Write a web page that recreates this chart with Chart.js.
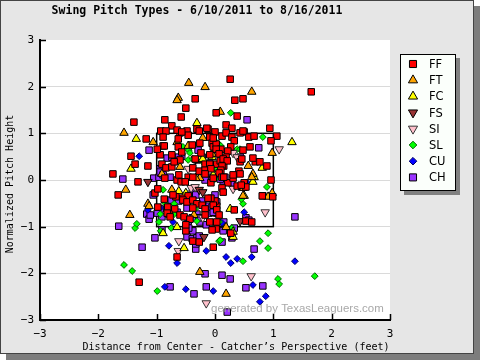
<!DOCTYPE html>
<html><head><meta charset="utf-8">
<script src="https://cdn.jsdelivr.net/npm/chart.js@4"></script>
<style>html,body{margin:0;padding:0;background:#fff;overflow:hidden}canvas{display:block}</style>
</head><body>
<canvas id="c" width="480" height="360"></canvas>
<script>
const categories = ['FF','FT','FC','FS','SI','SL','CU','CH'];
const titleText = 'Swing Pitch Types - 6/10/2011 to 8/16/2011';
const xAxisTitle = 'Distance from Center - Catcher\u2019s Perspective (feet)';
const yAxisTitle = 'Normalized Pitch Height';
const watermark = 'generated by TexasLeaguers.com';
const tickValues = [-3,-2,-1,0,1,2,3];
const xTickLabels = ['\u22123','\u22122','\u22121','0','1','2','3'];
const yTickLabels = ['\u22123','\u22122','\u22121','0','1','2','3'];
const strikeZone = [-1, 1, -1, 1]; // left, right, bottom, top

const ffX = [0.26,-0.34,0.34,0.48,-0.50,-0.58,0.02,0.38,-0.86,-1.39,-0.74,0.19,0.29,0.94,-0.93,-0.84,-0.60,-0.48,-0.46,-0.31,-0.27,-0.12,0,0.12,0.19,0.29,0.50,0.58,0.67,0.43,1.06,-1.18,-0.89,-0.63,-0.09,0.33,0.96,-0.26,-0.05,-0.03,0.02,-0.63,0.10,0.02,0.27,-0.57,-0.89,-0.24,-0.09,0.07,0.22,0.19,-1.44,-0.94,-0.60,-0.74,-0.34,-0.17,-0.09,0.03,0.09,0.14,0.15,0.21,0.43,0.46,0.69,-1.37,-1.15,-0.91,-0.84,-0.74,-0.38,-0.27,-0.17,-0.07,0.12,0.10,0.41,0.89,0.96,-1.75,-1.32,-0.86,-0.65,-0.62,-0.46,-0.17,-0.07,0.07,0.12,0.22,0.31,0.38,0.50,0.53,-1.66,0.81,-0.65,-0.57,-0.14,-0.87,-0.39,-0.99,-0.70,0.48,0.48,0.60,0.65,0.77,0.31,0.43,-0.03,-0.38,-1.03,-0.98,-0.98,-0.87,-0.67,-0.55,-0.46,-0.81,-0.69,-0.79,-0.60,-0.53,-0.43,-0.09,0.03,0.03,0,-0.07,0.99,0.53,0.63,-0.50,-0.38,-0.27,0.02,0.27,-0.03,-0.65,-1.30,-0.58,-0.51,-0.72,-0.55,-0.48,-0.38,-0.31,-0.22,-0.38,-0.17,-0.12,-0.82,-0.77,-0.17,-0.50,-0.05,-0.03,0.15,0.45,0.12,0.14,-0.03,0.03,0.07,0.33,1.65];
const ffY = [2.16,1.74,1.71,1.74,1.54,1.35,1.44,1.37,1.29,1.24,1.16,1.18,1.11,1.11,1.05,1.05,1.01,1.05,0.96,1.09,1.05,1.09,1.03,0.94,1.01,0.92,1.03,0.92,0.94,1.01,0.94,0.88,0.92,0.88,0.92,0.84,0.84,0.79,0.79,0.71,0.77,0.71,0.66,0.66,0.71,0.60,0.73,0.58,0.54,0.56,0.62,0.49,0.51,0.54,0.43,0.54,0.45,0.34,0.34,0.34,0.41,0.45,0.30,0.41,0.39,0.45,0.39,0.34,0.30,0.34,0.26,0.28,0.26,0.19,0.21,0.24,0.30,0.21,0.19,0.30,0,0.13,-0.04,0.04,0,0.11,0.06,0.13,-0.06,0.15,0.06,-0.06,0.04,-0.13,-0.06,-0.15,-0.32,-0.34,1.07,1.03,1.11,0.73,0.75,0.66,0.39,1.05,0.64,0.71,0.47,0.39,0.11,0.13,0.90,0.06,-0.28,-0.19,-0.58,-0.41,-0.36,-0.39,-0.34,-0.58,-0.62,-0.73,-0.75,-0.79,-0.84,-0.90,-0.90,-0.56,-0.45,-0.39,-0.36,-0.88,-0.90,-1.09,-1.31,-1.33,-1.05,-1.14,-1.44,-1.65,-2.19,-0.04,-0.04,-0.32,-0.43,-0.47,-0.43,-0.51,-0.54,-0.60,-0.62,-0.39,-0.71,-0.79,-0.75,-0.96,-1.07,0.04,0.06,-0.11,-0.17,-0.26,-0.54,-0.64,-0.75,-0.64,1.89];

const ftX = [-0.45,-0.17,0.63,-0.63,-0.65,0.09,-1.56,-1.06,-0.46,-0.05,0.98,-0.60,0.57,0.65,-0.91,-0.26,-1.53,0.98,-1.15,-1.13,-1.46,-0.74,-0.36,0.48,0.91,0.19,-0.26,0.19,-0.65,-0.21,-0.33,0.48,0.63];
const ftY = [2.08,1.99,1.89,1.76,1.71,1.46,1.01,0.81,0.73,0.56,0.58,0.28,0.30,0.13,0.13,0.04,-0.21,-0.28,-0.51,-0.56,-0.75,-0.21,-0.75,-0.34,-0.36,-1.01,-1.97,-2.44,0.81,0.90,0.04,-0.17,0.06];

const fcX = [-0.31,1.32,-1.35,0.81,0.67,0.50,-0.50,0.26,-0.89,0.31,0.31,-0.53,-1.44,-0.05,-0.26,-0.21,-0.09,-0.03,-0.62,0.65,-0.65];
const fcY = [1.22,0.81,0.88,0.26,0.06,-0.34,-0.28,-0.62,-1.14,-1.11,-1.22,-1.46,0.24,0.49,0.43,0.45,0.26,0.11,-0.24,-0.04,-1.01];

const fsX = [-0.33,-1.15,0.43,-0.19,-0.27,-0.21];
const fsY = [0.45,-0.04,-0.88,-1.22,-0.21,-0.26];

const siX = [0.31,1.10,-0.46,0.31,-0.21,0.86,-0.62,-0.63,0.62,-0.15,-0.41,-0.34,0.38];
const siY = [0.58,0.66,0.24,-0.19,-0.81,-0.69,-1.31,-1.52,-2.06,-2.64,-0.17,-0.15,0.49];

const slX = [0.27,0.82,0.05,0.10,-0.55,0.38,0.43,-0.45,-0.43,-0.46,-0.21,0.02,0,0.89,-1.37,-1.34,-0.94,-0.31,0.07,0.48,-0.93,0.29,0.07,0.09,0.91,0.77,0.91,0.48,-1.56,-1.42,-0.99,1.08,1.10,1.71,-0.38,-0.19,-0.89,-0.86,-0.70,-0.34,-0.77,-0.70,-0.96,-0.75,0.45];
const slY = [1.44,0.92,0.79,0.73,0.71,0.66,0.66,0.64,0.58,0.43,0.43,0.24,0.02,-0.15,-1.03,-0.94,-0.73,-0.88,-0.90,-0.51,-1.09,-1.03,-1.31,-1.29,-1.14,-1.31,-1.46,-1.74,-1.82,-1.95,-2.38,-2.12,-2.23,-2.06,0.45,0.36,-0.21,-0.49,-0.51,-0.62,-0.64,-0.73,-0.90,-1.03,-0.41];

const cuX = [-1.30,0.55,-1.15,-0.72,0.12,0.50,-0.79,-0.15,-0.65,0.19,0.27,0.38,0.63,1.37,-0.86,-0.50,-0.03,0.65,0.87,0.77,-0.94,-0.45];
const cuY = [0.51,-0.06,-0.64,-0.90,-0.92,-0.69,-1.41,-1.52,-1.78,-1.65,-1.78,-1.69,-1.65,-1.74,-2.29,-2.34,-2.38,-2.25,-2.49,-2.61,-0.60,-0.86];

const chX = [0.55,0.75,-1.13,-0.57,-0.63,-0.82,0.43,-0.94,-1.58,-1.05,-0.96,-0.77,-0.17,0.14,0.29,0.46,-1.06,0.82,-1.65,-1.17,-1.13,-0.39,-0.33,-0.94,-0.65,-0.46,-0.26,-0.15,-0.10,0.03,0.15,-0.38,-0.48,-0.39,-0.31,-0.27,0.12,0.14,0.29,0.67,-0.33,-0.33,-1.25,-0.17,0.12,0.26,-0.77,-0.36,-0.15,0.53,0.82,0.21,1.37,-1.03,-0.29,-0.74,-0.31,-0.22,-0.09,-0.94,-0.89,-0.05,-0.75,-0.62,-0.21,-0.10,-0.48,-0.99,-0.91,-0.31,-0.26,-0.39,-0.45,-0.91,0.09,0,0.03,-0.05,-0.03,0.53,0.58,0.33,0.17,-1.11];
const chY = [1.29,0.69,0.64,0.51,0.49,0.47,0.49,0.24,0.02,0.04,0.06,0.06,0,-0.02,-0.06,-0.15,-0.32,-0.34,-0.99,-0.73,-0.84,-0.28,-0.32,-0.62,-0.69,-0.88,-0.90,-0.96,-0.71,-0.71,-0.90,-1.09,-1.22,-1.26,-1.24,-1.20,-1.33,-1.09,-1.24,-1.48,-1.48,-1.37,-1.44,-2.01,-2.04,-2.12,-2.29,-2.44,-2.29,-2.31,-2.27,-2.83,-0.79,-1.24,0.64,0.49,0.43,0.49,0.36,0.17,0.11,0.06,-0.43,-0.45,-0.45,-0.56,-0.60,-0.71,-0.79,-0.73,-0.81,-0.81,-1.03,-1.07,0.02,-0.32,-0.47,-0.58,-0.69,-0.81,-0.86,-1.03,0.06,-0.75];

const seriesX = [ffX, ftX, fcX, fsX, siX, slX, cuX, chX];
const seriesY = [ffY, ftY, fcY, fsY, siY, slY, cuY, chY];

const styles = [
  {shape:'rect', rot:0, r:4.6, fill:'#ff0000', stroke:'#000000'},
  {shape:'triangle', rot:0, r:4.9, fill:'#ffa500', stroke:'#000000'},
  {shape:'triangle', rot:0, r:4.9, fill:'#ffff00', stroke:'#000000'},
  {shape:'triangle', rot:180, r:4.9, fill:'#993333', stroke:'#000000'},
  {shape:'triangle', rot:180, r:4.9, fill:'#ffc0cb', stroke:'#333333'},
  {shape:'rectRot', rot:0, r:3.4, fill:'#00ff00', stroke:'#006600'},
  {shape:'rectRot', rot:0, r:3.4, fill:'#0000ff', stroke:'#000066'},
  {shape:'rect', rot:0, r:4.6, fill:'#9933ff', stroke:'#000000'}
];
const legendStyles = styles.map(s => Object.assign({}, s, {r: s.shape === 'rectRot' ? 3.8 : s.r + 0.4}));

const datasets = categories.map((name, i) => ({
  label: name,
  data: seriesX[i].map((x, j) => ({x: x, y: seriesY[i][j]})),
  pointStyle: styles[i].shape,
  pointRotation: styles[i].rot,
  pointRadius: styles[i].r,
  pointHoverRadius: styles[i].r,
  pointBackgroundColor: styles[i].fill,
  pointBorderColor: styles[i].stroke,
  pointBorderWidth: 1,
  showLine: false
}));

function drawMarker(ctx, st, x, y) {
  ctx.save();
  ctx.fillStyle = st.fill; ctx.strokeStyle = st.stroke; ctx.lineWidth = 1;
  if (Chart.helpers && Chart.helpers.drawPoint) {
    Chart.helpers.drawPoint(ctx, {pointStyle: st.shape, rotation: st.rot, radius: st.r, borderWidth: 1}, x, y);
  } else {
    ctx.beginPath();
    const r = st.r;
    if (st.shape === 'rect') { const s = Math.SQRT1_2 * r; ctx.rect(x - s, y - s, 2 * s, 2 * s); }
    else if (st.shape === 'rectRot') { ctx.moveTo(x - r, y); ctx.lineTo(x, y - r); ctx.lineTo(x + r, y); ctx.lineTo(x, y + r); ctx.closePath(); }
    else { let a = st.rot * Math.PI / 180; for (let k = 0; k < 3; k++) { const px = x + Math.sin(a) * r, py = y - Math.cos(a) * r; k ? ctx.lineTo(px, py) : ctx.moveTo(px, py); a += 2 * Math.PI / 3; } ctx.closePath(); }
    ctx.fill(); ctx.stroke();
  }
  ctx.restore();
}

const deco = {
  id: 'deco',
  beforeDraw(chart) {
    const ctx = chart.ctx, a = chart.chartArea;
    ctx.save();
    ctx.fillStyle = '#ffffff'; ctx.fillRect(0, 0, 480, 360);
    ctx.fillStyle = '#7d7d7d'; ctx.fillRect(6, 6, 474, 354);
    ctx.fillStyle = '#e6e6e6'; ctx.fillRect(0, 0, 474, 354);
    ctx.strokeStyle = '#444'; ctx.lineWidth = 1; ctx.strokeRect(0.5, 0.5, 473, 353);
    ctx.fillStyle = '#ffffff'; ctx.fillRect(a.left, a.top, a.right - a.left, a.bottom - a.top);
    ctx.restore();
  },
  beforeDatasetsDraw(chart) {
    const ctx = chart.ctx, xs = chart.scales.x, ys = chart.scales.y, a = chart.chartArea;
    ctx.save();
    ctx.strokeStyle = '#000'; ctx.lineWidth = 1.5;
    const l = xs.getPixelForValue(strikeZone[0]), r = xs.getPixelForValue(strikeZone[1]);
    const b = ys.getPixelForValue(strikeZone[2]), t = ys.getPixelForValue(strikeZone[3]);
    ctx.strokeRect(l, t, r - l, b - t);
    ctx.beginPath();
    tickValues.forEach(v => {
      const px = Math.round(xs.getPixelForValue(v)) + 0.5;
      ctx.moveTo(px, a.bottom); ctx.lineTo(px, a.bottom - 6);
      const py = Math.round(ys.getPixelForValue(v)) + 0.5;
      ctx.moveTo(a.left, py); ctx.lineTo(a.left + 6, py);
    });
    ctx.stroke();
    ctx.restore();
  },
  afterDraw(chart) {
    const ctx = chart.ctx;
    ctx.save();
    ctx.font = '13px "Liberation Sans"';
    const w = ctx.measureText(watermark).width;
    const fs = 13 * 173 / w;
    ctx.font = fs.toFixed(2) + 'px "Liberation Sans"';
    ctx.fillStyle = '#a9a9a9'; ctx.textBaseline = 'alphabetic'; ctx.textAlign = 'left';
    ctx.fillText(watermark, 211, 312);
    ctx.fillStyle = '#000';
    ctx.font = '10px "DejaVu Sans Mono"';
    ctx.textAlign = 'center'; ctx.textBaseline = 'middle';
    ctx.fillText(xAxisTitle, 236, 347);
    ctx.save();
    ctx.translate(10, 184); ctx.rotate(-Math.PI / 2);
    ctx.fillText(yAxisTitle, 0, 0);
    ctx.restore();
    const bx = 400, by = 54, bw = 56, bh = 137;
    ctx.fillStyle = '#808080'; ctx.fillRect(bx + 4, by + 4, bw, bh);
    ctx.fillStyle = '#fbfffb'; ctx.fillRect(bx, by, bw, bh);
    ctx.strokeStyle = '#000'; ctx.lineWidth = 1; ctx.strokeRect(bx + 0.5, by + 0.5, bw - 1, bh - 1);
    ctx.font = '11.5px "DejaVu Sans"'; ctx.textAlign = 'left'; ctx.textBaseline = 'middle';
    categories.forEach((name, i) => {
      const y = 64 + i * 16.2;
      drawMarker(ctx, legendStyles[i], 413, y);
      ctx.fillStyle = '#000';
      ctx.fillText(name, 429, y + 1);
    });
    ctx.restore();
  }
};

const tickLabel = (arr) => (v) => { const k = tickValues.indexOf(v); return k >= 0 ? arr[k] : ''; };

new Chart(document.getElementById('c'), {
  type: 'scatter',
  data: { datasets: datasets },
  options: {
    responsive: false,
    animation: false,
    devicePixelRatio: 1,
    events: [],
    layout: { padding: { left: 4, right: 90, top: 0, bottom: 6 } },
    plugins: {
      legend: { display: false },
      tooltip: { enabled: false },
      title: {
        display: true, text: titleText, color: '#000',
        font: { family: '"DejaVu Sans Mono"', size: 11.5, weight: 'bold' },
        padding: { top: 4, bottom: 22.2 }
      }
    },
    scales: {
      x: {
        type: 'linear', min: -3, max: 3,
        ticks: { stepSize: 1, callback: tickLabel(xTickLabels), color: '#000', padding: 8, maxRotation: 0,
                 font: { family: '"DejaVu Sans Mono"', size: 11 } },
        grid: { display: false, drawTicks: false },
        border: { display: true, color: '#000', width: 2 },
        afterFit: (s) => { s.height = 34; }
      },
      y: {
        type: 'linear', min: -3, max: 3,
        ticks: { stepSize: 1, callback: tickLabel(yTickLabels), color: '#000', padding: 6,
                 font: { family: '"DejaVu Sans Mono"', size: 11 } },
        grid: { drawTicks: false, lineWidth: 1,
                color: (c) => (c.tick && Math.abs(c.tick.value) === 3) ? 'rgba(0,0,0,0)' : '#dadada' },
        border: { display: true, color: '#000', width: 2 },
        afterFit: (s) => { s.width = 36; }
      }
    }
  },
  plugins: [deco]
});
</script>
</body></html>
